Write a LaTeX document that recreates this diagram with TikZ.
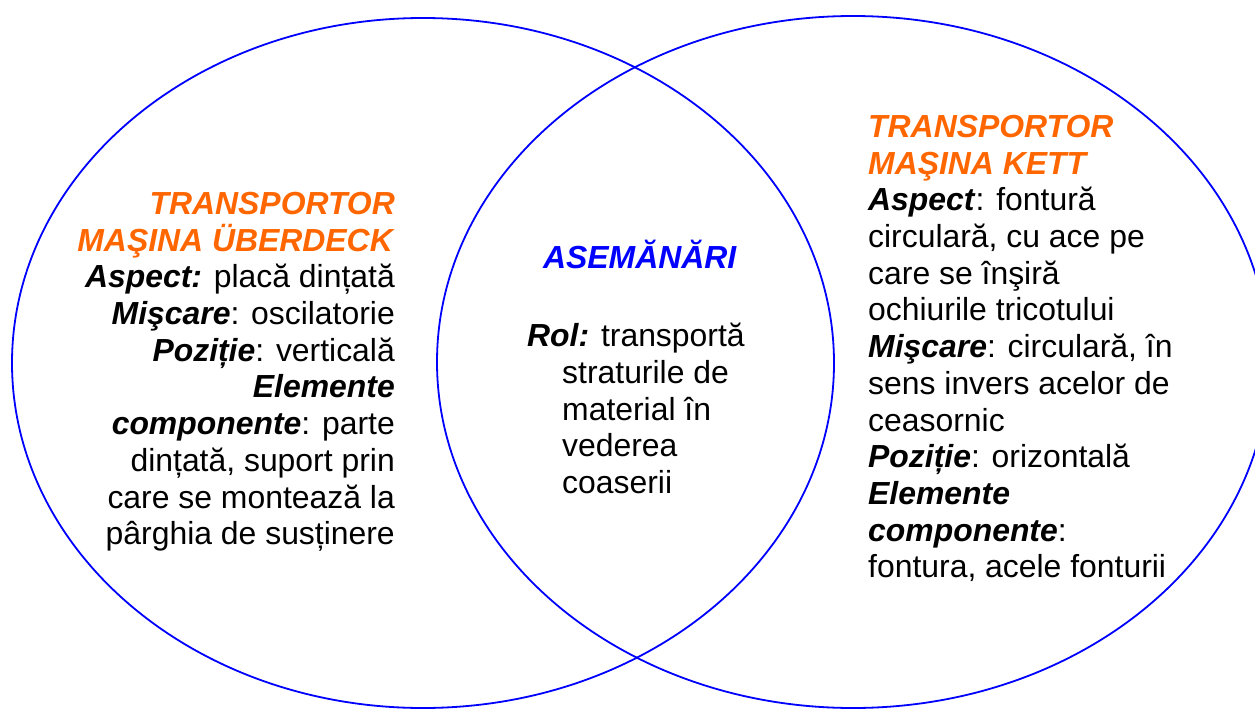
\documentclass[tikz,border=0pt]{standalone}
\usepackage{fontspec}
\setmainfont{Liberation Sans}
\usetikzlibrary{positioning}
\definecolor{portocaliu}{HTML}{FF6600}
\definecolor{albastru}{HTML}{0000FF}
\tikzset{
  contur/.style   = {draw=albastru, line width=1.8pt},
  bloctext/.style = {inner sep=0pt, font=\fontsize{31.9}{36.7}\selectfont}
}
\newcommand{\titlu}[1]{\textcolor{portocaliu}{\textbf{\textit{#1}}}}
\newcommand{\cheie}[1]{\textbf{\textit{#1}}}

\begin{document}
\begin{tikzpicture}[x=1pt, y=-1pt]
        \useasboundingbox (0,0) rectangle (1255,709);
        \draw[contur] (423,363) ellipse [x radius=411, y radius=345];
        \draw[contur] (853,362) ellipse [x radius=416, y radius=346];

        \node[bloctext, align=right, anchor=north east] (uberdeck) at (395,192)
            {\titlu{TRANSPORTOR}\\ \titlu{MAŞINA ÜBERDECK}\\
             \cheie{Aspect:} placă dințată\\ \cheie{Mişcare}: oscilatorie\\
             \cheie{Poziție}: verticală\\ \cheie{Elemente}\\
             \cheie{componente}: parte\\ dințată, suport prin\\
             care se montează la\\ pârghia de susținere};

        \node[bloctext, anchor=base, text=albastru] (asemanari) at (640,268) {\cheie{ASEMĂNĂRI}};
        \node[bloctext, align=left, anchor=north west] (rol) at (527,323)
            {\cheie{Rol:} transportă\\ \hspace*{35pt}straturile de\\
             \hspace*{35pt}material în\\ \hspace*{35pt}vederea\\ \hspace*{35pt}coaserii};

        \node[bloctext, align=left, anchor=north west] (kett) at (868,115)
            {\titlu{TRANSPORTOR}\\ \titlu{MAŞINA KETT}\\
             \cheie{Aspect}: fontură\\ circulară, cu ace pe\\ care se înşiră\\
             ochiurile tricotului\\ \cheie{Mişcare}: circulară, în\\
             sens invers acelor de\\ ceasornic\\ \cheie{Poziție}: orizontală\\
             \cheie{Elemente}\\ \cheie{componente}:\\ fontura, acele fonturii};
\end{tikzpicture}
\end{document}
